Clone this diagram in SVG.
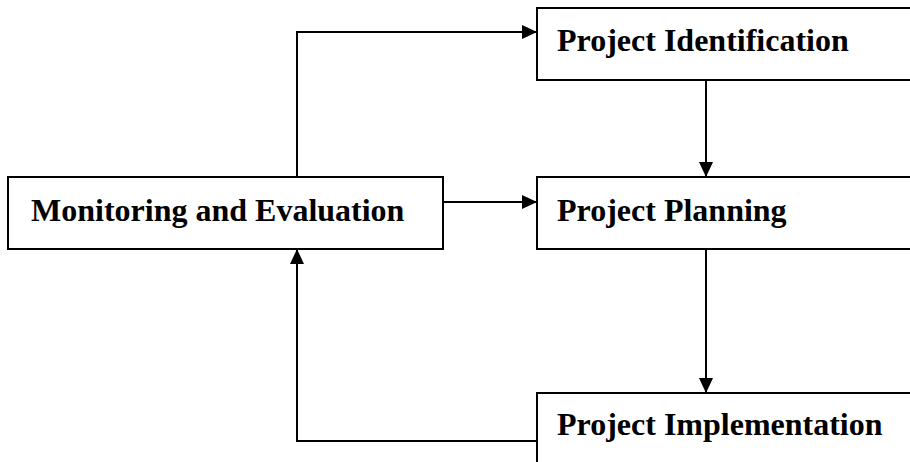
<svg xmlns="http://www.w3.org/2000/svg" width="910" height="462" viewBox="0 0 910 462">
<style>
.box{fill:#fff;stroke:#000;stroke-width:2}
.lbl{font-family:"Liberation Serif","Times New Roman",serif;font-weight:bold;font-size:32px;fill:#000}
.conn{fill:none;stroke:#000;stroke-width:2}
</style>
<defs>
<marker id="ah" markerUnits="userSpaceOnUse" markerWidth="16" markerHeight="14" refX="15" refY="7" orient="auto">
<path d="M0,0 L15,7 L0,14 z" fill="#000"/>
</marker>
</defs>
<rect width="910" height="462" fill="#fff"/>
<g id="ident"><rect class="box" x="537" y="8" width="390" height="72"/><text class="lbl" x="557" y="51">Project Identification</text></g>
<g id="plan"><rect class="box" x="537" y="177" width="390" height="72"/><text class="lbl" x="557" y="221">Project Planning</text></g>
<g id="me"><rect class="box" x="8" y="177" width="435" height="72"/><text class="lbl" x="31" y="221">Monitoring and Evaluation</text></g>
<g id="impl"><rect class="box" x="537" y="393" width="390" height="90"/><text class="lbl" x="557" y="435">Project Implementation</text></g>
<g id="connectors">
<path class="conn" d="M297,177 V32 H537" marker-end="url(#ah)"/>
<path class="conn" d="M706,80 V177" marker-end="url(#ah)"/>
<path class="conn" d="M443,202 H537" marker-end="url(#ah)"/>
<path class="conn" d="M706,249 V393" marker-end="url(#ah)"/>
<path class="conn" d="M537,441 H297 V249" marker-end="url(#ah)"/>
</g>
</svg>
